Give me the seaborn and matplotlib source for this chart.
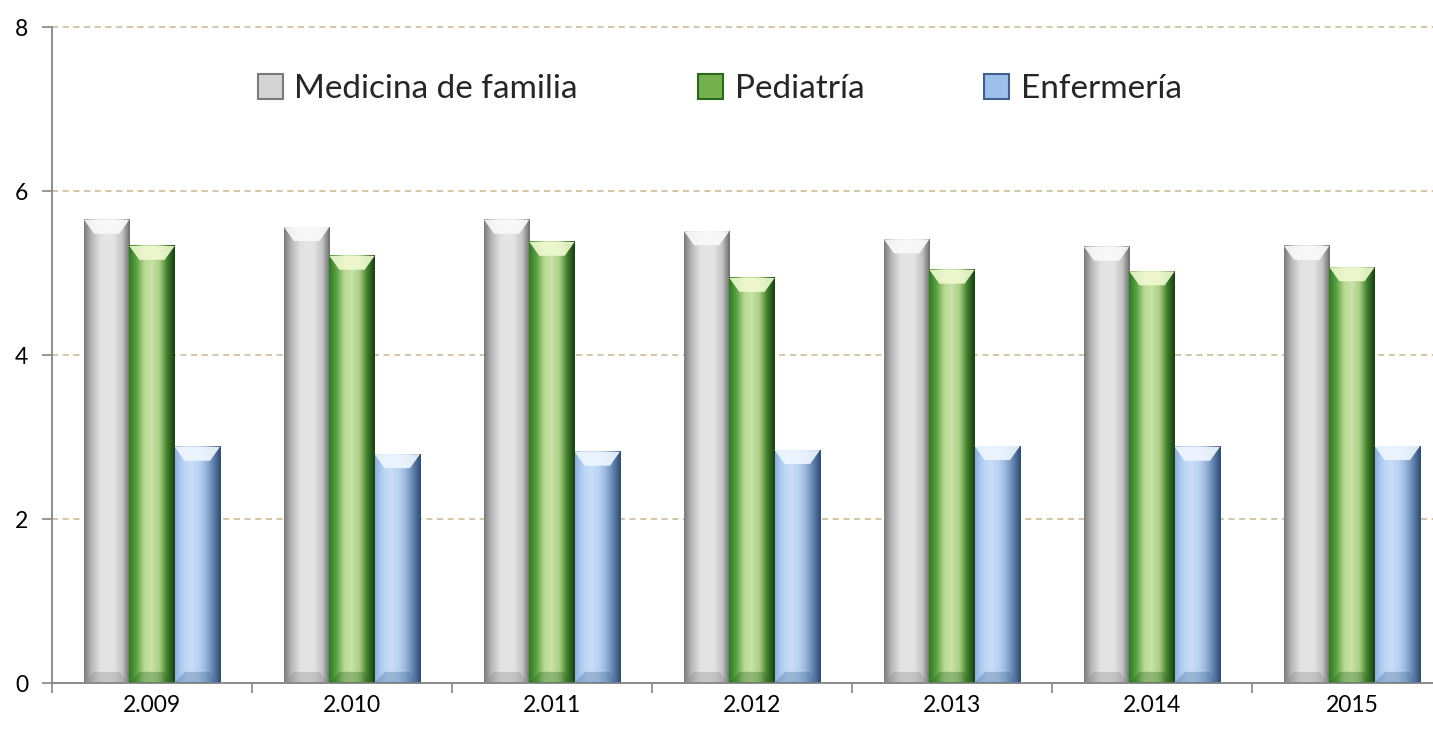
import numpy as np
import pandas as pd
import matplotlib
matplotlib.use("Agg")
import matplotlib.pyplot as plt
import seaborn as sns
from matplotlib.colors import LinearSegmentedColormap
from matplotlib.patches import Polygon

years = ["2.009", "2.010", "2.011", "2.012", "2.013", "2.014", "2015"]
medicina = [5.65, 5.56, 5.65, 5.51, 5.41, 5.32, 5.33]
pediatria = [5.33, 5.21, 5.38, 4.94, 5.04, 5.02, 5.07]
enfermeria = [2.88, 2.79, 2.82, 2.84, 2.89, 2.88, 2.89]
series = ["Medicina de familia", "Pediatría", "Enfermería"]

df = pd.DataFrame({
    "year": years * 3,
    "serie": [s for s in series for _ in years],
    "valor": medicina + pediatria + enfermeria,
})

sns.set_theme(style="white")
plt.rcParams["font.family"] = ["Lato", "DejaVu Sans"]

W, H = 1433, 730
fig = plt.figure(figsize=(W / 100, H / 100), dpi=100)
ax = fig.add_axes([52 / W, 47 / H, 1400 / W, 656 / H])

base = ["#d4d4d4", "#74b04e", "#9dc0ea"]
sns.barplot(data=df, x="year", y="valor", hue="serie", hue_order=series,
            order=years, palette=base, width=0.68, ax=ax, saturation=1,
            edgecolor="none", linewidth=0)

grads = [
    ["#7a7a7a", "#b8b8b8", "#dedede", "#e6e6e6", "#e2e2e2", "#c4c4c4", "#6a6a6a"],
    ["#2a7a1c", "#5fa345", "#b9d996", "#c8e2a8", "#a9cf84", "#3f7e2c", "#163f0e"],
    ["#8cb0de", "#b5d2f4", "#c8def8", "#bcd5f2", "#9ab8de", "#5f82ad", "#2c4a72"],
]
tops = ["#fbfbfb", "#f1fad2", "#f0f7ff"]
bottoms = ["#8a8a8a", "#2e6a22", "#4a6c98"]

for i, cont in enumerate(ax.containers):
    cmap = LinearSegmentedColormap.from_list(f"g{i}", grads[i])
    grad = np.linspace(0, 1, 256).reshape(1, -1)
    for rect in cont:
        x, w, h = rect.get_x(), rect.get_width(), rect.get_height()
        ax.imshow(grad, cmap=cmap, extent=(x, x + w, 0, h), aspect="auto",
                  zorder=2, interpolation="bicubic")
        d = w * 0.22
        dy = 0.17
        ax.add_patch(Polygon([(x, h), (x + w, h), (x + w - d, h - dy), (x + d, h - dy)],
                             closed=True, facecolor=tops[i], edgecolor="none",
                             alpha=0.9, zorder=3))
        ax.add_patch(Polygon([(x, 0), (x + w, 0), (x + w - d, dy * 0.8), (x + d, dy * 0.8)],
                             closed=True, facecolor=bottoms[i], edgecolor="none",
                             alpha=0.35, zorder=3))

ax.set_xlim(-0.5, 6.5)
ax.set_ylim(0, 8)
ax.set_yticks([0, 2, 4, 6, 8])
ax.set_xticks(range(len(years)))
ax.set_xticklabels(years)
ax.set_xticks(np.arange(-0.5, len(years), 1), minor=True)
ax.set_xlabel("")
ax.set_ylabel("")

ax.yaxis.grid(True, color="#c8b98c", linestyle=(0, (4, 3)), linewidth=1.1)
ax.set_axisbelow(True)
for gl in ax.get_ygridlines():
    gl.set_clip_on(False)

for s in ["top", "right"]:
    ax.spines[s].set_visible(False)
for s in ["left", "bottom"]:
    ax.spines[s].set_color("#868686")
    ax.spines[s].set_linewidth(1.3)

ax.tick_params(axis="x", which="major", length=0, pad=9, labelsize=16.5, labelcolor="black")
ax.tick_params(axis="x", which="minor", length=7, width=1.2, color="#868686",
               direction="out", bottom=True)
ax.tick_params(axis="y", length=7, width=1.2, color="#868686", direction="out",
               left=True, labelsize=16.5, pad=10, labelcolor="black")

handles, labels = ax.get_legend_handles_labels()
for hnd, ec in zip(handles, ["#7a7a7a", "#2a6a1c", "#3f5f8c"]):
    hnd.set_edgecolor(ec)
    hnd.set_linewidth(1.5)
ax.legend(handles, labels, loc="center", bbox_to_anchor=(0.477, 0.905), ncol=3,
          frameon=False, fontsize=24, handlelength=0.75, handleheight=0.75,
          handletextpad=0.35, columnspacing=3.6)

fig.savefig("out.png", dpi=100)
